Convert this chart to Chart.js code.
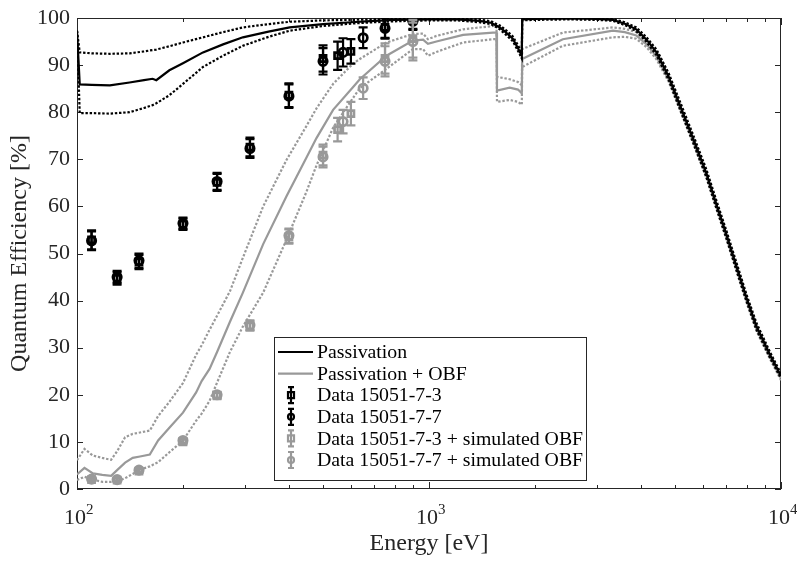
<!DOCTYPE html>
<html>
<head>
<meta charset="utf-8">
<script src="https://cdn.jsdelivr.net/npm/chart.js@4.4.1/dist/chart.umd.min.js"></script>
<style>
  html, body { margin: 0; padding: 0; background: #fff; }
</style>
</head>
<body>
<canvas id="qe" width="797" height="561"></canvas>
<script>
const FONT = '"Liberation Serif", "Times New Roman", serif';
const BLACK = '#000000';
const GRAY = '#999999';

// Passivation model and its uncertainty band (black)
const passEnergy = [100, 101.8, 110, 124, 141, 155, 164, 168, 183, 200,
  228, 260, 296, 350, 402, 500, 600, 700, 800, 1000,
  1200, 1390, 1500, 1590, 1650, 1730, 1790, 1835, 1840, 2000,
  2500, 3000, 3330, 3600, 3880, 4150, 4430, 4800, 5160, 5600,
  6140, 6550, 7000, 7550, 7980, 8510, 9290, 10000];
const passQE = [97.3, 85.9, 85.8, 85.7, 86.3, 86.8, 87.1, 86.8, 88.9, 90.4,
  92.7, 94.4, 95.9, 97.1, 98.0, 98.7, 99.1, 99.4, 99.6, 99.7,
  99.7, 99.4, 99.0, 98.0, 97.0, 95.6, 93.6, 92.0, 99.7, 99.8,
  99.9, 99.8, 99.6, 98.8, 97.6, 95.4, 92.7, 87.5, 81.5, 74.8,
  67.0, 60.5, 54.0, 46.2, 40.6, 34.6, 28.6, 24.0];
const passHigh = [97.3, 92.7, 92.5, 92.4, 92.5, 92.9, 93.2, 93.3, 94.0, 94.8,
  95.9, 97.0, 98.0, 98.7, 99.2, 99.5, 99.6, 99.7, 99.8, 99.9,
  99.9, 99.7, 99.3, 98.4, 97.5, 96.1, 94.2, 92.6, 99.9, 100,
  100, 100, 99.8, 99.1, 98.0, 95.9, 93.3, 88.2, 82.3, 75.6,
  67.8, 61.3, 54.8, 47.0, 41.3, 35.3, 29.2, 24.5];
const passLow = [97.3, 79.8, 79.8, 79.7, 80.0, 80.9, 81.5, 81.9, 83.6, 86.0,
  89.6, 92.0, 94.1, 96.0, 97.3, 98.3, 98.8, 99.1, 99.3, 99.5,
  99.5, 99.1, 98.7, 97.6, 96.5, 95.1, 93.0, 91.4, 99.5, 99.6,
  99.7, 99.6, 99.4, 98.5, 97.2, 94.9, 92.1, 86.8, 80.7, 74.0,
  66.2, 59.7, 53.2, 45.4, 39.9, 33.9, 28.0, 23.5];

// Passivation + optical blocking filter (gray)
const obfEnergy = [100, 105, 111, 118, 125, 130, 137, 144, 151, 161,
  170, 183, 200, 218, 226, 238, 250, 272, 296, 338,
  394, 448, 479, 534, 608, 636, 757, 900, 962, 993,
  1050, 1250, 1520, 1555, 1560, 1695, 1790, 1835, 1840, 2400,
  3330, 3600, 3880, 4150, 4430, 4800, 5160, 5600, 6140, 6550,
  7000, 7550, 7980, 8510, 9290, 10000];
const obfQE = [3.1, 4.5, 3.3, 3.0, 2.8, 4.0, 5.6, 6.6, 6.9, 7.3,
  10.3, 13.0, 16.2, 20.5, 22.9, 25.5, 29.1, 35.5, 41.7, 52.0,
  62.2, 70.3, 74.5, 80.5, 85.3, 87.0, 92.0, 95.2, 95.4, 94.5,
  95.0, 96.4, 96.9, 96.9, 84.6, 85.2, 84.8, 84.0, 91.3, 95.5,
  97.3, 97.0, 96.3, 94.4, 91.8, 86.9, 81.0, 74.3, 66.5, 60.0,
  53.5, 45.7, 40.1, 34.1, 28.1, 23.5];
const obfHigh = [6.1, 8.5, 7.1, 6.6, 6.2, 8.0, 11.0, 11.7, 12.0, 12.4,
  15.5, 18.5, 22.5, 28.5, 30.5, 33.8, 36.8, 42.0, 49.1, 60.0,
  69.9, 77.0, 80.8, 86.0, 90.3, 91.3, 94.8, 96.6, 96.7, 95.5,
  96.2, 97.6, 98.3, 98.3, 87.5, 87.0, 86.4, 85.7, 93.4, 96.9,
  98.0, 97.7, 97.0, 95.0, 92.4, 87.4, 81.5, 74.8, 67.0, 60.5,
  54.0, 46.2, 40.6, 34.6, 28.5, 23.9];
const obfLow = [1.9, 2.6, 2.0, 1.5, 1.5, 1.6, 2.3, 3.2, 4.1, 4.8,
  5.7, 7.8, 10.3, 14.5, 16.0, 18.7, 22.6, 29.1, 34.5, 41.7,
  53.0, 63.0, 68.7, 76.7, 83.0, 85.1, 89.2, 93.4, 93.4, 92.0,
  92.8, 94.8, 95.5, 95.5, 82.2, 82.6, 82.2, 81.6, 89.6, 94.1,
  95.9, 96.0, 95.6, 93.8, 91.2, 86.4, 80.5, 73.8, 66.0, 59.5,
  53.0, 45.2, 39.6, 33.6, 27.7, 23.1];

// measured points, sample 15051-7-3 (squares) and 15051-7-7 (circles)
const dataAEnergy = [110, 130, 150, 200, 250, 310, 400, 500, 550, 600, 750, 900];
const dataAQE = [52.9, 44.7, 48.2, 56.2, 65.1, 72.6, 83.6, 91.4, 92.0, 92.9, 98.0, 99.5];
const dataAErr = [2.0, 1.3, 1.5, 1.2, 1.8, 2.0, 2.5, 2.8, 3.0, 2.6, 2.2, 1.8];
const dataBEnergy = [110, 130, 150, 200, 250, 310, 400, 500, 570, 650, 750, 900];
const dataBQE = [52.7, 45.0, 48.5, 56.4, 65.3, 72.3, 83.4, 90.8, 92.7, 95.8, 97.8, 99.3];
const dataBErr = [2.0, 1.3, 1.5, 1.2, 1.8, 2.0, 2.5, 2.8, 3.0, 2.2, 2.2, 1.8];

// same points corrected with the simulated filter
const obfAQE = [2.0, 1.9, 3.8, 10.0, 19.8, 34.6, 53.6, 70.9, 76.3, 79.7, 91.4, 95.6];
const obfAErr = [0.3, 0.3, 0.4, 0.5, 0.6, 1.0, 1.5, 2.2, 2.5, 2.5, 3.2, 4.0];
const obfBQE = [2.1, 2.0, 4.0, 10.3, 20.0, 34.8, 53.8, 70.5, 78.0, 85.1, 90.8, 95.0];
const obfBErr = [0.3, 0.3, 0.4, 0.5, 0.6, 1.0, 1.5, 2.2, 2.5, 2.3, 3.2, 4.0];

const yTicks = [0, 10, 20, 30, 40, 50, 60, 70, 80, 90, 100];
const xTicks = [100, 200, 300, 400, 500, 600, 700, 800, 900,
  1000, 2000, 3000, 4000, 5000, 6000, 7000, 8000, 9000, 10000];
const xLabelValues = [100, 1000, 10000];
const xLabelExp = ['2', '3', '4'];

const pts = (xs, ys) => xs.map((x, i) => ({x, y: ys[i]}));

const curve = (label, xs, ys, color, dotted, order) => ({
  label,
  data: pts(xs, ys),
  showLine: true,
  borderColor: color,
  borderWidth: 2.2,
  borderDash: dotted ? [2.4, 1.8] : [],
  pointRadius: 0,
  tension: 0,
  order,
  inLegend: !dotted
});

const marks = (label, xs, ys, errs, color, style) => ({
  label,
  data: pts(xs, ys),
  errors: errs,
  showLine: false,
  pointStyle: style,
  pointRadius: style === 'rect' ? 4.3 : 4.2,
  borderWidth: 2.7,
  borderColor: color,
  backgroundColor: 'rgba(255,255,255,0)',
  order: 0,
  inLegend: true
});

const datasets = [
  curve('Passivation', passEnergy, passQE, BLACK, false, 1),
  curve('Passivation + OBF', obfEnergy, obfQE, GRAY, false, 3),
  marks('Data 15051-7-3', dataAEnergy, dataAQE, dataAErr, BLACK, 'rect'),
  marks('Data 15051-7-7', dataBEnergy, dataBQE, dataBErr, BLACK, 'circle'),
  marks('Data 15051-7-3 + simulated OBF', dataAEnergy, obfAQE, obfAErr, GRAY, 'rect'),
  marks('Data 15051-7-7 + simulated OBF', dataBEnergy, obfBQE, obfBErr, GRAY, 'circle'),
  curve('pass hi', passEnergy, passHigh, BLACK, true, 2),
  curve('pass lo', passEnergy, passLow, BLACK, true, 2),
  curve('obf hi', obfEnergy, obfHigh, GRAY, true, 4),
  curve('obf lo', obfEnergy, obfLow, GRAY, true, 4)
];

function drawMarker(ctx, style, x, y, r) {
  ctx.beginPath();
  if (style === 'rect') ctx.rect(x - r, y - r, 2 * r, 2 * r);
  else ctx.arc(x, y, r, 0, Math.PI * 2);
  ctx.stroke();
}

function drawBar(ctx, x, top, bot, cap) {
  ctx.beginPath();
  ctx.moveTo(x, top); ctx.lineTo(x, bot);
  ctx.moveTo(x - cap, top); ctx.lineTo(x + cap, top);
  ctx.moveTo(x - cap, bot); ctx.lineTo(x + cap, bot);
  ctx.stroke();
}

// axes box with inward ticks, like the original figure
const boxAxes = {
  id: 'boxAxes',
  beforeDatasetsDraw(chart) {
    const {ctx, chartArea: a, scales: {x, y}} = chart;
    ctx.save();
    ctx.strokeStyle = '#262626';
    ctx.lineWidth = 1;
    ctx.strokeRect(a.left + 0.5, a.top + 0.5, a.right - a.left - 1, a.bottom - a.top - 1);
    ctx.beginPath();
    yTicks.forEach(v => {
      const py = Math.round(y.getPixelForValue(v)) + 0.5;
      ctx.moveTo(a.left, py); ctx.lineTo(a.left + 6, py);
      ctx.moveTo(a.right, py); ctx.lineTo(a.right - 6, py);
    });
    xTicks.forEach(v => {
      const px = Math.round(x.getPixelForValue(v)) + 0.5;
      const len = xLabelValues.includes(v) ? 7 : 4;
      ctx.moveTo(px, a.bottom); ctx.lineTo(px, a.bottom - len);
      ctx.moveTo(px, a.top); ctx.lineTo(px, a.top + len);
    });
    ctx.stroke();
    ctx.restore();
  },
  afterDraw(chart) {
    const {ctx, chartArea: a, scales: {x}} = chart;
    ctx.save();
    ctx.fillStyle = '#262626';
    ctx.textBaseline = 'alphabetic';
    ctx.textAlign = 'left';
    xLabelValues.forEach((v, i) => {
      const px = x.getPixelForValue(v) - 2;
      ctx.font = '22px ' + FONT;
      const wb = ctx.measureText('10').width;
      ctx.fillText('10', px - wb / 2, a.bottom + 35);
      ctx.font = '15px ' + FONT;
      ctx.fillText(xLabelExp[i], px + wb / 2, a.bottom + 25);
    });
    ctx.restore();
  }
};

const errorBars = {
  id: 'errorBars',
  afterDatasetsDraw(chart) {
    const {ctx, chartArea: a, scales: {x, y}} = chart;
    ctx.save();
    ctx.beginPath();
    ctx.rect(a.left, a.top, a.right - a.left, a.bottom - a.top);
    ctx.clip();
    ctx.lineWidth = 2.2;
    chart.data.datasets.forEach(ds => {
      if (!ds.errors) return;
      ctx.strokeStyle = ds.borderColor;
      ds.data.forEach((p, j) => {
        const px = x.getPixelForValue(p.x);
        drawBar(ctx, px, y.getPixelForValue(p.y + ds.errors[j]),
          y.getPixelForValue(p.y - ds.errors[j]), 4.5);
      });
    });
    ctx.restore();
  }
};

const boxLegend = {
  id: 'boxLegend',
  afterDraw(chart) {
    const {ctx} = chart;
    const items = chart.data.datasets.filter(d => d.inLegend);
    const left = 274, top = 337, right = 586, rowH = 21.6;
    const bottom = top + 15 + (items.length - 1) * rowH + 20;
    ctx.save();
    ctx.fillStyle = '#ffffff';
    ctx.fillRect(left, top, right - left, bottom - top);
    ctx.strokeStyle = '#262626';
    ctx.lineWidth = 1;
    ctx.strokeRect(left + 0.5, top + 0.5, right - left, bottom - top);
    ctx.font = '19.8px ' + FONT;
    ctx.textBaseline = 'middle';
    ctx.textAlign = 'left';
    items.forEach((d, i) => {
      const cy = top + 15 + i * rowH;
      ctx.strokeStyle = d.borderColor;
      ctx.lineWidth = 2.2;
      if (d.errors) {
        drawBar(ctx, 291, cy - 8, cy + 8, 3);
        drawMarker(ctx, d.pointStyle, 291, cy, 3);
      } else {
        ctx.beginPath();
        ctx.moveTo(278, cy); ctx.lineTo(313, cy);
        ctx.stroke();
      }
      ctx.fillStyle = '#000000';
      ctx.fillText(d.label, 317, cy + 1);
    });
    ctx.restore();
  }
};

new Chart(document.getElementById('qe').getContext('2d'), {
  type: 'scatter',
  data: {datasets},
  plugins: [boxAxes, errorBars, boxLegend],
  options: {
    responsive: false,
    animation: false,
    devicePixelRatio: 1,
    layout: {padding: {left: 0, right: 16, top: 12, bottom: 0}},
    plugins: {legend: {display: false}, tooltip: {enabled: false}},
    scales: {
      x: {
        type: 'logarithmic',
        min: 100,
        max: 10000,
        grid: {display: false, drawTicks: false},
        border: {display: false},
        ticks: {display: false},
        afterFit: s => { s.height = 72; },
        title: {
          display: true,
          text: 'Energy [eV]',
          color: '#262626',
          font: {family: FONT, size: 24},
          padding: {top: 0, bottom: 3}
        }
      },
      y: {
        min: 0,
        max: 100,
        grid: {display: false, drawTicks: false},
        border: {display: false},
        afterBuildTicks: s => { s.ticks = yTicks.map(v => ({value: v})); },
        afterFit: s => { s.width = 77; },
        ticks: {
          color: '#262626',
          padding: 7,
          font: {family: FONT, size: 22, lineHeight: 1}
        },
        title: {
          display: true,
          text: 'Quantum Efficiency [%]',
          color: '#262626',
          font: {family: FONT, size: 24},
          padding: {top: 5, bottom: 0}
        }
      }
    }
  }
});
</script>
</body>
</html>
